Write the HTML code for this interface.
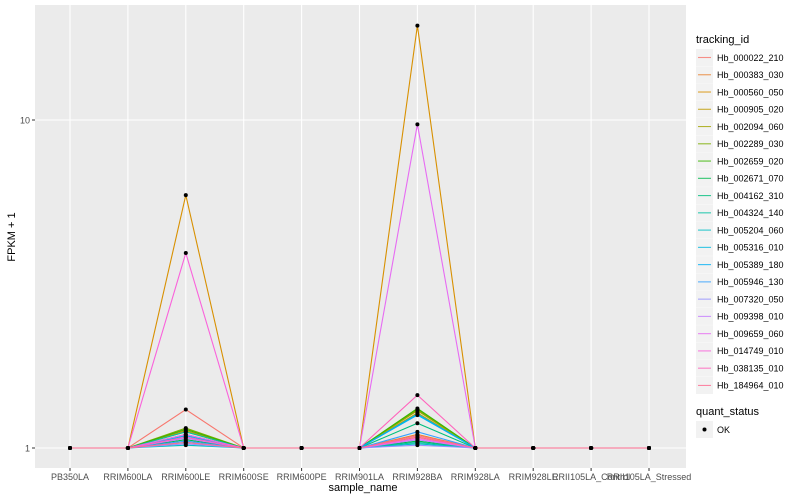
<!DOCTYPE html>
<html><head><meta charset="utf-8"><style>
body{margin:0;background:#fff;}
svg{display:block;font-family:"Liberation Sans",sans-serif;}
</style></head><body>
<svg id="chart" width="800" height="500">
<rect x="35" y="5" width="651" height="463" fill="#EBEBEB"/>
<g id="grid"></g><g id="series"></g><g id="points"></g><g id="axes"></g><g id="legend"></g>
<text x="363" y="491" font-size="11" text-anchor="middle" fill="#000">sample_name</text>
<text transform="translate(15,237) rotate(-90)" font-size="11" text-anchor="middle" fill="#000">FPKM + 1</text>
</svg>
<script>
const samples=["PB350LA","RRIM600LA","RRIM600LE","RRIM600SE","RRIM600PE","RRIM901LA","RRIM928BA","RRIM928LA","RRIM928LE","RRII105LA_Control","RRII105LA_Stressed"];
const ids=["Hb_000022_210","Hb_000383_030","Hb_000560_050","Hb_000905_020","Hb_002094_060","Hb_002289_030","Hb_002659_020","Hb_002671_070","Hb_004162_310","Hb_004324_140","Hb_005204_060","Hb_005316_010","Hb_005389_180","Hb_005946_130","Hb_007320_050","Hb_009398_010","Hb_009659_060","Hb_014749_010","Hb_038135_010","Hb_184964_010"];
const colors=["#F8766D","#EA8331","#D89000","#C09B00","#A3A500","#7CAE00","#39B600","#00BB4E","#00BF7D","#00C1A3","#00BFC4","#00BAE0","#00B0F6","#35A2FF","#9590FF","#C77CFF","#E76BF3","#FA62DB","#FF62BC","#FF6C91"];
const v00=[1,1,1.31,1,1,1,1.08,1,1,1,1];
const v01=[1,1,1.12,1,1,1,1.10,1,1,1,1];
const v02=[1,1,5.9,1,1,1,19.4,1,1,1,1];
const v03=[1,1,1.13,1,1,1,1.28,1,1,1,1];
const v04=[1,1,1.10,1,1,1,1.30,1,1,1,1];
const v05=[1,1,1.15,1,1,1,1.31,1,1,1,1];
const v06=[1,1,1.14,1,1,1,1.32,1,1,1,1];
const v07=[1,1,1.06,1,1,1,1.05,1,1,1,1];
const v08=[1,1,1.04,1,1,1,1.19,1,1,1,1];
const v09=[1,1,1.12,1,1,1,1.04,1,1,1,1];
const v10=[1,1,1.02,1,1,1,1.03,1,1,1,1];
const v11=[1,1,1.08,1,1,1,1.27,1,1,1,1];
const v12=[1,1,1.09,1,1,1,1.26,1,1,1,1];
const v13=[1,1,1.05,1,1,1,1.12,1,1,1,1];
const v14=[1,1,1.03,1,1,1,1.02,1,1,1,1];
const v15=[1,1,1.07,1,1,1,1.06,1,1,1,1];
const v16=[1,1,1.10,1,1,1,9.7,1,1,1,1];
const v17=[1,1,3.93,1,1,1,1.07,1,1,1,1];
const v18=[1,1,1.08,1,1,1,1.45,1,1,1,1];
const v19=[1,1,1.04,1,1,1,1.09,1,1,1,1];
const values=[v00,v01,v02,v03,v04,v05,v06,v07,v08,v09,v10,v11,v12,v13,v14,v15,v16,v17,v18,v19];
const yTicks=[1,10];
const NS="http://www.w3.org/2000/svg";
function x(i){return 70+i*57.9;}
function y(v){return 448-Math.log10(v)*328;}
function mk(tag,attrs,parent){const e=document.createElementNS(NS,tag);for(const k in attrs)e.setAttribute(k,attrs[k]);parent.appendChild(e);return e;}
const grid=document.getElementById('grid'),axes=document.getElementById('axes');
yTicks.forEach(t=>{
 const g=mk('line',{x1:35,x2:686,y1:y(t),y2:y(t),stroke:'#fff','stroke-width':1.1},grid);
 
 
 mk('line',{x1:32,x2:35,y1:y(t),y2:y(t),stroke:'#333','stroke-width':1},axes);
 const l=mk('text',{x:30,y:y(t)+3.5,'font-size':9,'text-anchor':'end',fill:'#4D4D4D'},axes);
 l.textContent=t;
 
 
});
samples.forEach((s,i)=>{
 const g=mk('line',{x1:x(i),x2:x(i),y1:5,y2:468,stroke:'#fff','stroke-width':1.1},grid);
 
 
 mk('line',{x1:x(i),x2:x(i),y1:468,y2:471,stroke:'#333','stroke-width':1},axes);
 const l=mk('text',{x:x(i),y:480,'font-size':9,'text-anchor':'middle',fill:'#4D4D4D'},axes);
 l.textContent=s;
 
 
});
const sg=document.getElementById('series'),pg=document.getElementById('points');
values.forEach((vals,k)=>{
 const p=mk('polyline',{points:vals.map((v,i)=>x(i)+','+y(v)).join(' '),fill:'none',stroke:colors[k],'stroke-width':1.1},sg);
 
 
 vals.forEach((v,i)=>{
  const c=mk('circle',{cx:x(i),cy:y(v),r:2,fill:'#000'},pg);
  
  
 });
});
const lg=document.getElementById('legend');
const t1=mk('text',{x:696,y:43,'font-size':11,fill:'#000'},lg);
t1.textContent='tracking_id';


ids.forEach((id,k)=>{
 const cy=57.5+k*17.26;
 mk('rect',{x:696,y:cy-8.5,width:17,height:17,fill:'#F2F2F2'},lg);
 mk('line',{x1:698,x2:711,y1:cy,y2:cy,stroke:colors[k],'stroke-width':1.1,opacity:0.8},lg);
 const t=mk('text',{x:717,y:cy+3.3,'font-size':9,fill:'#000'},lg);
 t.textContent=id;
 
 
});
const t2=mk('text',{x:696,y:415,'font-size':11,fill:'#000'},lg);
t2.textContent='quant_status';


mk('rect',{x:696,y:421,width:17,height:17,fill:'#F2F2F2'},lg);
mk('circle',{cx:704.5,cy:429.5,r:2,fill:'#000'},lg);
const t3=mk('text',{x:717,y:433,'font-size':9,fill:'#000'},lg);
t3.textContent='OK';


</script>
</body></html>
